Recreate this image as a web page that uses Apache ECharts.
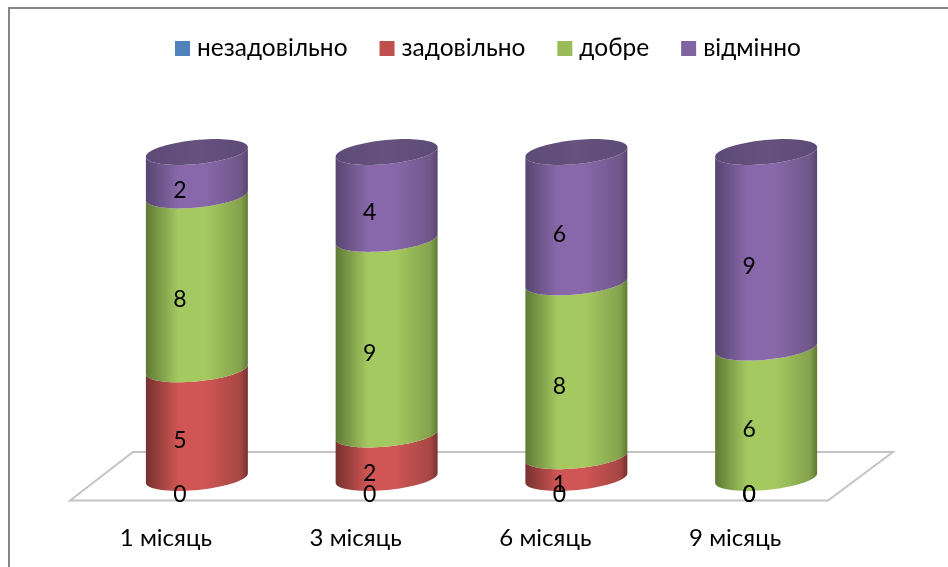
<!DOCTYPE html>
<html>
<head>
<meta charset="utf-8">
<style>
  html, body { margin: 0; padding: 0; background: #fff; }
  #chart { width: 948px; height: 567px; }
</style>
<script src="https://cdn.jsdelivr.net/npm/echarts@6/dist/echarts.min.js"></script>
</head>
<body>
<div id="chart"></div>
<script>
// Grades per survey month
const categories = ['1 місяць', '3 місяць', '6 місяць', '9 місяць'];
const seriesNames = ['незадовільно', 'задовільно', 'добре', 'відмінно'];
const unsatisfactory = [0, 0, 0, 0];
const satisfactory = [5, 2, 1, 0];
const good = [8, 9, 8, 6];
const excellent = [2, 4, 6, 9];

const legendColors = ['#4f81bd', '#c0504d', '#9bbb59', '#8064a2'];
// edge, light centre, far side of each cylinder's shading
const shades = [
  ['#2f4d72', '#5b93d6', '#4a78ab'],
  ['#76312f', '#cf5654', '#a64644'],
  ['#5f7a35', '#a5c961', '#84a24c'],
  ['#584570', '#8868aa', '#6f5789']
];
const FONT = 'Lato, "Noto Sans", sans-serif';
const TILT = 5.6 * Math.PI / 180;
const RY = 12;

// Running totals so every segment knows where it starts and ends
const allValues = [unsatisfactory, satisfactory, good, excellent];
const stacks = categories.map(() => 0);
const seriesRows = allValues.map(values => values.map((v, i) => {
  const row = [i, stacks[i], stacks[i] + v, v];
  stacks[i] += v;
  return row;
}));

function ellipsePoint(cx, cy, rx, t) {
  const c = Math.cos(t), s = Math.sin(t);
  return [
    cx + rx * c * Math.cos(TILT) + RY * s * Math.sin(TILT),
    cy - rx * c * Math.sin(TILT) + RY * s * Math.cos(TILT)
  ];
}
function frontArc(cx, cy, rx, reverse) {
  const pts = [];
  for (let k = 0; k <= 40; k++) {
    const t = Math.PI * (reverse ? 40 - k : k) / 40;
    pts.push(ellipsePoint(cx, cy, rx, t));
  }
  return pts;
}
function shade(stops) {
  return {
    type: 'linear', x: 0, y: 0, x2: 1, y2: 0,
    colorStops: [
      { offset: 0, color: stops[0] },
      { offset: 0.32, color: stops[1] },
      { offset: 0.58, color: stops[1] },
      { offset: 0.93, color: stops[2] },
      { offset: 1, color: stops[0] }
    ]
  };
}

function makeRenderer(seriesIndex) {
  return function (params, api) {
    const start = api.coord([api.value(0), api.value(1)]);
    const end = api.coord([api.value(0), api.value(2)]);
    const value = api.value(3);
    const rx = api.size([1, 0])[0] * 0.27;
    const cx = start[0];
    const children = [];
    if (value > 0) {
      children.push({
        type: 'polygon',
        shape: { points: frontArc(cx, start[1], rx, false).concat(frontArc(cx, end[1], rx, true)) },
        style: { fill: shade(shades[seriesIndex]) }
      });
    }
    if (seriesIndex === allValues.length - 1) {
      const cap = [];
      for (let k = 0; k < 80; k++) cap.push(ellipsePoint(cx, end[1], rx, k * Math.PI / 40));
      children.push({
        type: 'polygon',
        shape: { points: cap },
        style: { fill: { type: 'linear', x: 0, y: 0, x2: 1, y2: 0, colorStops: [
          { offset: 0, color: '#5e4a76' }, { offset: 0.5, color: '#67527f' }, { offset: 1, color: '#5e4a76' }
        ] } }
      });
    }
    children.push({
      type: 'text',
      z2: 100,
      style: {
        text: String(value),
        x: cx - 17,
        y: (start[1] + end[1]) / 2 + 17,
        fill: '#000',
        font: '23px ' + FONT,
        align: 'center',
        verticalAlign: 'middle'
      }
    });
    return { type: 'group', children };
  };
}

const chart = echarts.init(document.getElementById('chart'), null, { renderer: 'canvas' });
chart.setOption({
  animation: false,
  backgroundColor: '#fff',
  legend: {
    left: 175,
    top: 36,
    padding: 0,
    itemWidth: 15,
    itemHeight: 15,
    itemGap: 32,
    icon: 'rect',
    data: seriesNames,
    textStyle: { fontFamily: FONT, fontSize: 24.5, color: '#000', padding: [0, 0, 0, 2] }
  },
  grid: { left: 102, width: 759, top: 152, height: 326 },
  xAxis: {
    type: 'category',
    data: categories,
    axisLine: { show: false },
    axisTick: { show: false },
    axisLabel: {
      margin: 48,
      padding: [0, 62, 0, 0],
      color: '#000',
      fontFamily: FONT,
      fontSize: 24
    }
  },
  yAxis: { type: 'value', min: 0, max: 15, show: false },
  graphic: [
    // chart frame
    { type: 'polyline', z: 0, silent: true,
      shape: { points: [[9, 567], [9, 8], [948, 8]] },
      style: { stroke: '#868686', lineWidth: 2, fill: 'none' } },
    // floor of the 3D plot
    { type: 'polygon', z: 0, silent: true,
      shape: { points: [[70, 500.5], [133, 452], [893, 452], [828, 500.5]] },
      style: { stroke: '#c4c4c4', lineWidth: 2, fill: '#fff' } }
  ],
  series: seriesRows.map((rows, idx) => ({
    name: seriesNames[idx],
    type: 'custom',
    renderItem: makeRenderer(idx),
    itemStyle: { color: legendColors[idx] },
    encode: { x: 0, y: [1, 2] },
    data: rows
  }))
});
</script>
</body>
</html>
